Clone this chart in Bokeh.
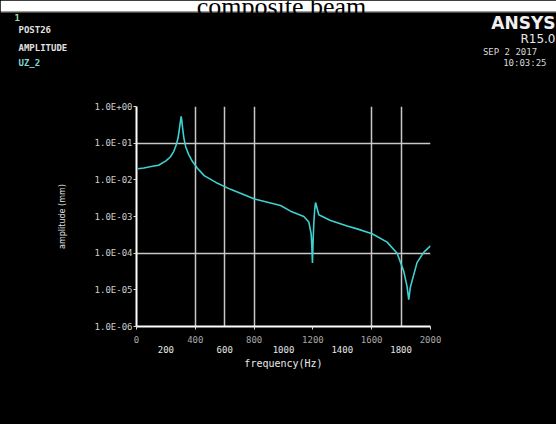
from bokeh.plotting import figure
from bokeh.layouts import column
from bokeh.models import LinearAxis, FixedTicker, CustomJSTickFormatter, Range1d
from bokeh.core.properties import value
from bokeh.embed import file_html
from bokeh.resources import INLINE

# ---------------- data ----------------
title_text = "composite beam"
freq_hz = [10, 50, 100, 150, 200, 230, 254, 270, 283, 292, 300, 304, 308, 314, 322,
           335, 356, 380, 413, 460, 540, 640, 803, 980, 1048, 1138, 1172, 1188, 1192,
           1197, 1201, 1206, 1212, 1218, 1240, 1320, 1433, 1501, 1603, 1705, 1773,
           1818, 1840, 1852, 1862, 1875, 1909, 1955, 2000]
amplitude_mm = [0.020, 0.021, 0.023, 0.025, 0.033, 0.042, 0.060, 0.089, 0.14, 0.25,
                0.42, 0.54, 0.42, 0.25, 0.14, 0.079, 0.048, 0.032, 0.021, 0.013,
                0.0085, 0.0055, 0.0030, 0.0020, 0.0014, 0.0010, 0.00071, 0.00034,
                0.00018, 0.000054, 0.00020, 0.00063, 0.0015, 0.0024, 0.00112, 0.00078,
                0.00055, 0.00046, 0.00034, 0.00020, 0.00010, 0.000032, 0.0000126,
                0.0000054, 0.0000112, 0.0000178, 0.000056, 0.000107, 0.000158]
x_ticks_upper = [0, 400, 800, 1200, 1600, 2000]
x_ticks_lower = [200, 600, 1000, 1400, 1800]
x_grid_at = [400, 600, 800, 1600, 1800, 2000]
y_ticks = [1e-6, 1e-5, 1e-4, 1e-3, 1e-2, 1e-1, 1e0]
y_grid_at = [1e-4, 1e-1]
x_label = "frequency(Hz)"
y_label = "amplitude (mm)"
header_left = ["1", "POST26", "AMPLITUDE", "UZ_2"]
brand = "ANSYS"
release = "R15.0"
date_text = "SEP  2 2017"
time_text = "10:03:25"

# ---------------- layout ----------------
W, H = 556, 424
HEAD = 90                             # height of the header strip
FL, FR, FT, FB = 136, 430, 106, 326   # frame edges on the page
CYAN = "#3fd0d0"
MONO = "DejaVu Sans Mono"

# ---- header strip: page-pixel coordinates (y grows downward) ----
hd = figure(width=W, height=HEAD, output_backend="svg", toolbar_location=None,
            x_range=Range1d(0, W), y_range=Range1d(HEAD, 0),
            x_axis_location=None, y_axis_location=None,
            min_border=0, min_border_left=0, min_border_right=0,
            min_border_top=0, min_border_bottom=0)
hd.frame_align = False
hd.background_fill_color = "black"
hd.border_fill_color = "black"
hd.outline_line_color = None
hd.grid.visible = False

hd.quad(left=[0], right=[W], top=[0], bottom=[10.5], fill_color="white", line_color=None)
hd.quad(left=[0], right=[W], top=[10.5], bottom=[12], fill_color="#9c9c9c", line_color=None)
hd.text(x=[281], y=[6], text=[title_text], text_font=value("Liberation Serif"),
        text_font_size="26px", text_color="black", text_align="center",
        text_baseline="alphabetic")

hdr_colors = ["#9fe0b0", "#e0e0e0", "#e0e0e0", "#7fd8d8"]
hdr_x = [14, 18, 18, 18]
hdr_y = [17, 29, 47, 62]
hd.text(x=hdr_x, y=hdr_y, text=header_left, text_font=value(MONO),
        text_font_size="9px", text_font_style="bold", text_color=hdr_colors,
        text_baseline="middle", text_align="left")

hd.text(x=[555], y=[22], text=[brand], text_font=value("DejaVu Sans"),
        text_font_style="bold", text_font_size="17px", text_color="#f0f0f0",
        text_align="right", text_baseline="middle")
hd.text(x=[555], y=[38], text=[release], text_font=value("DejaVu Sans"),
        text_font_size="12px", text_color="#e8e8e8",
        text_align="right", text_baseline="middle")
hd.text(x=[542, 546], y=[51, 62], text=[date_text, time_text], text_font=value(MONO),
        text_font_size="9px", text_color="#d8d8d8",
        text_align="right", text_baseline="middle")

# ---- main chart ----
p = figure(width=W, height=H - HEAD, output_backend="svg", toolbar_location=None,
           x_range=Range1d(0, 2000), y_range=Range1d(1e-6, 1.0),
           y_axis_type="log", x_axis_location=None,
           min_border_left=FL, min_border_right=W - FR,
           min_border_top=FT - HEAD, min_border_bottom=H - FB)
p.frame_align = False
p.background_fill_color = "black"
p.border_fill_color = "black"
p.outline_line_color = None

p.xgrid.ticker = FixedTicker(ticks=x_grid_at)
p.ygrid.ticker = FixedTicker(ticks=y_grid_at)
for g in (p.xgrid, p.ygrid):
    g.grid_line_color = "#c8c8c8"
    g.grid_line_width = 1.5

ya = p.yaxis[0]
ya.ticker = FixedTicker(ticks=y_ticks)
ya.formatter = CustomJSTickFormatter(code="""
const e = Math.round(Math.log10(tick));
const s = e < 0 ? "-" : "+";
const a = Math.abs(e);
return "1.0E" + s + (a < 10 ? "0" : "") + a;
""")
ya.axis_line_color = "white"
ya.axis_line_width = 2
ya.major_tick_line_color = "#dddddd"
ya.major_tick_in = 0
ya.major_tick_out = 3
ya.minor_tick_line_color = None
ya.major_label_standoff = 1
ya.major_label_text_font = MONO
ya.major_label_text_font_size = "9px"
ya.major_label_text_color = "#cfcfcf"
ya.axis_label = y_label
ya.axis_label_text_font = "DejaVu Sans"
ya.axis_label_text_font_style = "normal"
ya.axis_label_text_font_size = "8px"
ya.axis_label_text_color = "#e0e0e0"
ya.axis_label_standoff = 25

xa1 = LinearAxis(ticker=FixedTicker(ticks=x_ticks_upper))
xa1.axis_line_color = "white"
xa1.axis_line_width = 2
xa1.major_tick_line_color = "#dddddd"
xa1.major_tick_in = 0
xa1.major_tick_out = 3
xa1.minor_tick_line_color = None
xa1.major_label_standoff = 6
xa1.major_label_text_font = MONO
xa1.major_label_text_font_size = "9px"
xa1.major_label_text_color = "#a8a8a8"
p.add_layout(xa1, "below")

xa2 = LinearAxis(ticker=FixedTicker(ticks=x_ticks_lower))
xa2.axis_line_color = None
xa2.major_tick_line_color = None
xa2.major_tick_in = 0
xa2.major_tick_out = 0
xa2.minor_tick_line_color = None
xa2.major_label_standoff = 0
xa2.major_label_text_font = MONO
xa2.major_label_text_font_size = "9px"
xa2.major_label_text_color = "#e8e8e8"
xa2.axis_label = x_label
xa2.axis_label_text_font = MONO
xa2.axis_label_text_font_style = "normal"
xa2.axis_label_text_font_size = "10px"
xa2.axis_label_text_color = "#e8e8e8"
xa2.axis_label_standoff = 2
p.add_layout(xa2, "below")

p.line(freq_hz, amplitude_mm, line_color=CYAN, line_width=1.6)

layout = column(hd, p, spacing=0, styles={"background-color": "black"})
open("out.html", "w").write(file_html(layout, INLINE))
